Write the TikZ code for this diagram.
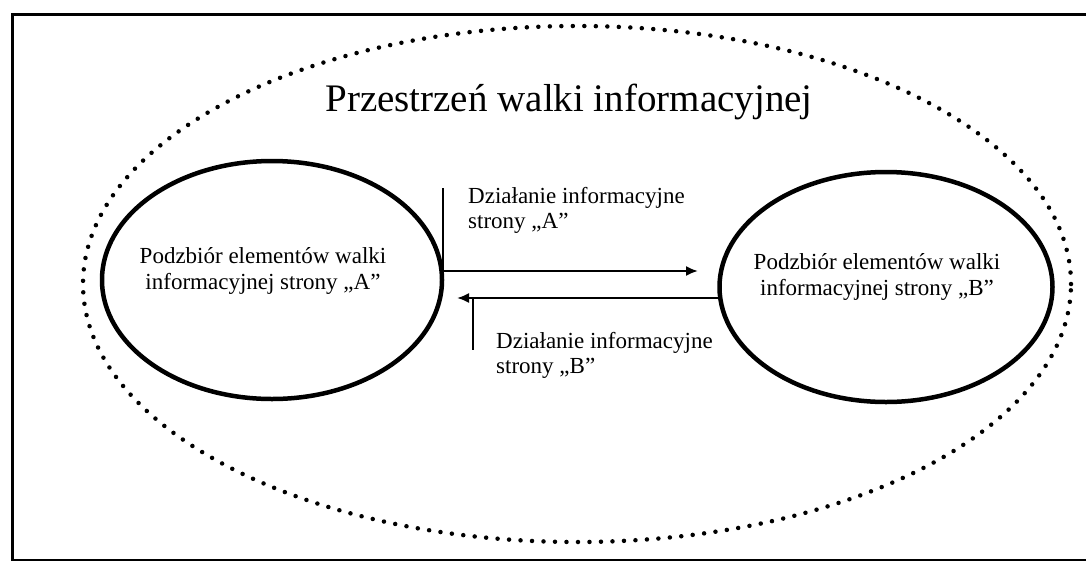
\documentclass[tikz,border=0pt]{standalone}
\usepackage{fontspec}
\setmainfont{Liberation Serif}
\usetikzlibrary{shapes.geometric,arrows.meta}
\begin{document}
\begin{tikzpicture}[x=1pt,y=-1pt,
  frameline/.style={line width=3pt},
  space/.style={ellipse, draw, line width=4.5pt, line cap=round,
    dash pattern=on 0pt off 11.5pt, inner sep=0pt},
  oval/.style={ellipse, draw, line width=4.5pt, inner sep=0pt},
  flow/.style={line width=2pt, -{Latex[length=12pt,width=10pt]}},
  tickline/.style={line width=2pt},
  ovaltext/.style={font=\fontsize{23}{26}\selectfont, align=center, inner sep=0pt},
  lbl/.style={font=\fontsize{23}{26}\selectfont, anchor=base west, inner sep=0pt},
]
\useasboundingbox (0,0) rectangle (1086,560);
\clip (0,0) rectangle (1086,560);

% page frame (right and bottom edges fall outside the sheet)
\draw[frameline] (12,14) rectangle (1100,560.5);

% whole space of the information struggle
\node[space, minimum width=988pt, minimum height=516pt] (space) at (577,284) {};
\node[font=\fontsize{39}{44}\selectfont, anchor=base, inner sep=0pt] (title) at (569,111)
  {Przestrzeń walki informacyjnej};

% the two subsets
\node[oval, minimum width=340pt, minimum height=238pt] (A) at (272,280) {};
\node[ovaltext] (Atext) at (263,271)
  {Podzbiór elementów walki\\informacyjnej strony „A”};
\node[oval, minimum width=333pt, minimum height=230pt] (B) at (886,287) {};
\node[ovaltext] (Btext) at (877,277)
  {Podzbiór elementów walki\\informacyjnej strony „B”};

% action of side A
\coordinate (a0) at (443,188);
\coordinate (a1) at (698,271);
\draw[flow] (a0) |- (a1);
\node[lbl] (la1) at (468,203) {Działanie informacyjne};
\node[lbl] (la2) at (468,228) {strony „A”};

% action of side B
\coordinate (b0) at (719,298);
\coordinate (b1) at (457,298);
\draw[flow] (b0) -- (b1);
\coordinate (b2) at (473,298);
\coordinate (b3) at (473,350);
\draw[tickline] (b2) -- (b3);
\node[lbl] (lb1) at (496,348) {Działanie informacyjne};
\node[lbl] (lb2) at (496,373) {strony „B”};
\end{tikzpicture}
\end{document}
